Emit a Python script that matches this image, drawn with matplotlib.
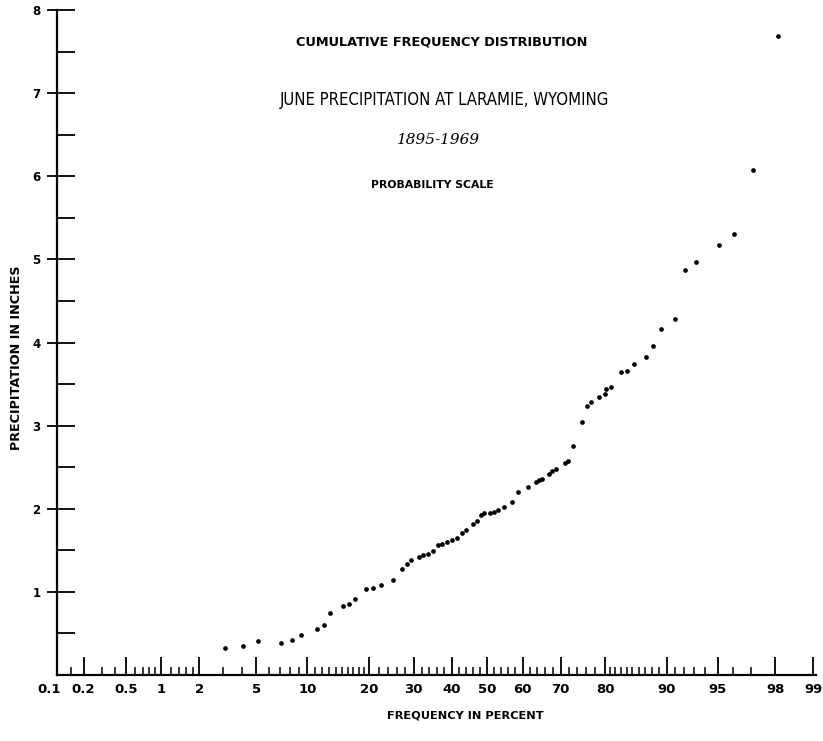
import math
import numpy as np
import matplotlib as mpl
mpl.use('Agg')
import matplotlib.pyplot as plt
import matplotlib.transforms as mtransforms
from matplotlib.ticker import FixedLocator, FixedFormatter

# plotting position (percent) and June precipitation (inches)
freq = [3.1, 4.1, 5.1, 7.1, 8.2, 9.2, 11.2, 12.2, 13.2, 15.2,
        16.3, 17.3, 19.3, 20.7, 22.5, 25.1, 27.2, 28.3, 29.3, 31.4,
        32.4, 33.7, 34.9, 36.4, 37.4, 38.8, 40.2, 41.4, 42.9, 44.1,
        46.1, 47.1, 48.2, 49.1, 50.9, 51.9, 53.0, 54.9, 57.0, 58.8,
        61.4, 63.6, 64.5, 65.2, 67.1, 67.7, 68.9, 71.0, 71.9, 73.0,
        75.0, 76.1, 77.0, 78.7, 79.9, 80.2, 81.1, 83.1, 84.1, 85.2,
        87.1, 88.2, 89.2, 91.0, 92.1, 93.2, 95.1, 96.1, 97.1, 98.1]
precip = [0.33, 0.35, 0.41, 0.39, 0.42, 0.48, 0.55, 0.60, 0.74, 0.83,
          0.86, 0.92, 1.03, 1.05, 1.08, 1.14, 1.27, 1.34, 1.38, 1.42,
          1.44, 1.46, 1.49, 1.56, 1.58, 1.60, 1.63, 1.65, 1.71, 1.75,
          1.82, 1.85, 1.92, 1.95, 1.95, 1.96, 1.99, 2.02, 2.08, 2.20,
          2.26, 2.32, 2.35, 2.36, 2.42, 2.45, 2.48, 2.55, 2.57, 2.76,
          3.04, 3.24, 3.28, 3.35, 3.38, 3.44, 3.46, 3.65, 3.66, 3.74,
          3.82, 3.96, 4.16, 4.28, 4.87, 4.97, 5.17, 5.31, 6.07, 7.69]

x_major = [0.2, 0.5, 1, 2, 5, 10, 20, 30, 40, 50, 60, 70, 80, 90, 95, 98, 99]
x_labels = ['0.2', '0.5', '1', '2', '5', '10', '20', '30', '40', '50',
            '60', '70', '80', '90', '95', '98', '99']
x_minor = [0.15, 0.3, 0.4, 0.6, 0.7, 0.8, 0.9, 1.2, 1.4, 1.6, 1.8,
           3, 4, 6, 7, 8, 9, 11, 12, 13, 14, 15, 16, 17, 18, 19,
           22, 24, 26, 28, 32, 34, 36, 38, 42, 44, 46, 48,
           52, 54, 56, 58, 62, 64, 66, 68, 72, 74, 76, 78,
           81, 82, 83, 84, 85, 86, 87, 88, 89, 91, 92, 93, 94, 96, 97]
y_ticks = [0.5, 1, 1.5, 2, 2.5, 3, 3.5, 4, 4.5, 5, 5.5, 6, 6.5, 7, 7.5, 8]
y_labels = ['' if t % 1 else str(int(t)) for t in y_ticks]

_erf = np.vectorize(math.erf, otypes=[float])


def pct_to_z(p):
    # inverse normal cdf by bisection
    q = np.clip(np.asarray(p, float) / 100.0, 1e-9, 1 - 1e-9)
    lo = np.full(q.shape, -8.0)
    hi = np.full(q.shape, 8.0)
    for _ in range(45):
        mid = 0.5 * (lo + hi)
        below = 0.5 * (1 + _erf(mid / math.sqrt(2))) < q
        lo = np.where(below, mid, lo)
        hi = np.where(below, hi, mid)
    return 0.5 * (lo + hi)


def z_to_pct(z):
    return 50.0 * (1 + _erf(np.asarray(z, float) / math.sqrt(2)))


W, H = 823, 741
fig = plt.figure(figsize=(W / 100, H / 100), dpi=100)
ax = fig.add_axes([57 / W, 66 / H, (816 - 57) / W, 665 / H])
ax.set_xscale('function', functions=(pct_to_z, z_to_pct))
ax.set_xlim(0.108, 99.05)
ax.set_ylim(0, 8)

ax.plot(freq, precip, 'o', color='k', ms=3.4, mec='none', clip_on=False)

for s in ['top', 'right']:
    ax.spines[s].set_visible(False)
for s in ['left', 'bottom']:
    ax.spines[s].set_linewidth(1.6)

ax.xaxis.set_major_locator(FixedLocator(x_major))
ax.xaxis.set_major_formatter(FixedFormatter(x_labels))
ax.xaxis.set_minor_locator(FixedLocator(x_minor))
ax.xaxis.set_minor_formatter(FixedFormatter([]))
ax.tick_params(axis='x', which='major', direction='in', length=13, width=1.3,
               pad=6, labelsize=9.5)
ax.tick_params(axis='x', which='minor', direction='in', length=5.5, width=1.1)
shift = mtransforms.offset_copy(ax.get_xaxis_transform(), fig=fig, x=-5, y=0,
                                units='dots')
ax.text(0.1, -0.0125, '0.1', transform=shift, ha='center',
        va='top', fontsize=9.5, fontweight='bold', clip_on=False)

# half-inch ticks inside, integer ticks also poke out to the left
ax.yaxis.set_major_locator(FixedLocator(y_ticks))
ax.yaxis.set_major_formatter(FixedFormatter(y_labels))
ax.yaxis.set_minor_locator(FixedLocator(list(range(1, 9))))
ax.yaxis.remove_overlapping_locs = False
ax.tick_params(axis='y', which='major', direction='in', length=13, width=1.3,
               pad=12, labelsize=8.5)
ax.tick_params(axis='y', which='minor', direction='out', length=7, width=1.3)
for lab in ax.get_xticklabels() + ax.get_yticklabels():
    lab.set_fontweight('bold')


def fx(px):
    return px / W


def fy(py):
    return 1 - py / H


fig.text(fx(442), fy(42), 'CUMULATIVE FREQUENCY DISTRIBUTION', ha='center',
         va='center', fontsize=9.3, fontweight='bold')
fig.text(fx(444), fy(100), 'JUNE PRECIPITATION AT LARAMIE, WYOMING',
         ha='center', va='center', fontsize=12, stretch='condensed',
         family=['Liberation Sans Narrow', 'DejaVu Sans Condensed', 'DejaVu Sans'])
fig.text(fx(438), fy(140), '1895-1969', ha='center', va='center',
         fontsize=11, style='italic', family=['DejaVu Serif'])
fig.text(fx(432), fy(185), 'PROBABILITY SCALE', ha='center', va='center',
         fontsize=7.8, fontweight='bold')
fig.text(fx(17), fy(358), 'PRECIPITATION IN INCHES', ha='center', va='center',
         rotation=90, fontsize=9.2, fontweight='bold')
fig.text(fx(465), fy(715), 'FREQUENCY IN PERCENT', ha='center', va='center',
         fontsize=8.2, fontweight='bold')

fig.savefig('out.png', dpi=100)
